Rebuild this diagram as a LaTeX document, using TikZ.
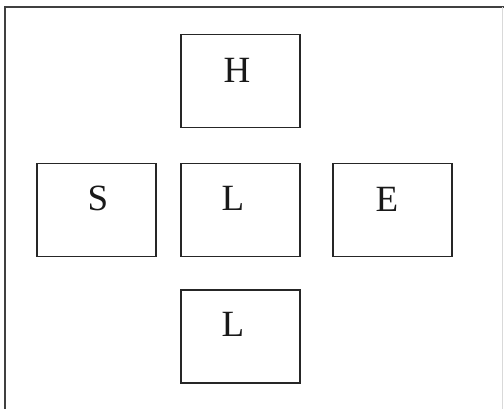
\documentclass[tikz,border=0pt]{standalone}
\usepackage{fontspec}
\setmainfont{Liberation Serif}
\begin{document}
\begin{tikzpicture}[x=1pt,y=-1pt,
  box/.style={draw=black!85, line width=1.5pt, minimum width=119pt, minimum height=93pt, inner sep=0pt, anchor=north west},
  lbl/.style={font=\fontsize{37}{39}\selectfont, inner sep=0pt, text=black!90}]
\useasboundingbox (0,0) rectangle (504,409);
\fill[white] (0,0) rectangle (504,409);
\draw[black!75, line width=2pt] (5,409) -- (5,7) -- (504,7);
\draw[black!15, line width=1pt] (502.5,7) -- (502.5,409);
\node[box] (h) at (180,34) {};
\node[box] (lc) at (180,163) {};
\node[box] (s) at (36,163) {};
\node[box] (e) at (332,163) {};
\node[box] (lb) at (180,289) {};
\node[lbl] (th) at (237,70) {H};
\node[lbl] (tlc) at (233,198) {L};
\node[lbl] (ts) at (98,198) {S};
\node[lbl] (te) at (387,199) {E};
\node[lbl] (tlb) at (233,324) {L};
\end{tikzpicture}
\end{document}
